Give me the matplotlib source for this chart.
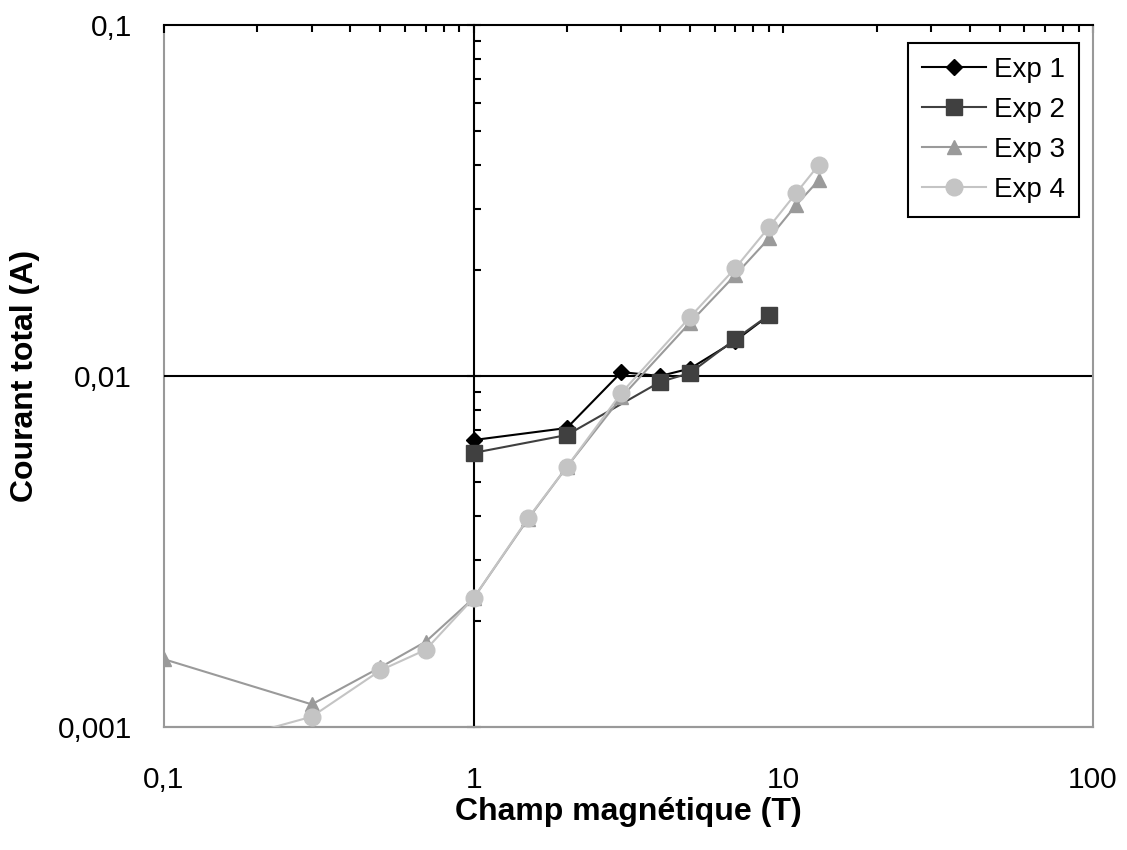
import numpy as np
import matplotlib.pyplot as plt
from matplotlib.ticker import FuncFormatter, LogLocator, NullFormatter, NullLocator, FixedLocator

plt.rcParams['font.family'] = ['Liberation Sans', 'DejaVu Sans']

# Données (champ en T, courant en A)
champ_exp1 = [1, 2, 3, 4, 5, 7, 9]
courant_exp1 = [0.00657, 0.00711, 0.01026, 0.0100, 0.0105, 0.0126, 0.0149]

champ_exp2 = [1, 2, 4, 5, 7, 9]
courant_exp2 = [0.00604, 0.00679, 0.00962, 0.0102, 0.01274, 0.01493]

champ_exp3 = [0.1, 0.3, 0.5, 0.7, 1, 1.5, 2, 3, 5, 7, 9, 11, 13]
courant_exp3 = [0.00156, 0.00116, 0.00148, 0.00175, 0.00233, 0.00392, 0.00551,
                0.0087, 0.0142, 0.0194, 0.0247, 0.0307, 0.0361]

champ_exp4 = [0.1, 0.3, 0.5, 0.7, 1, 1.5, 2, 3, 5, 7, 9, 11, 13]
courant_exp4 = [0.00082, 0.00107, 0.00145, 0.00166, 0.00233, 0.00394, 0.00551,
                0.00895, 0.01473, 0.0203, 0.0266, 0.0332, 0.0399]

xticks = [0.1, 1, 10, 100]
yticks = [0.001, 0.01, 0.1]

def virgule(v, pos=None):
    return f"{v:g}".replace('.', ',')

fig = plt.figure(figsize=(11.27, 8.5), dpi=100)
ax = fig.add_axes([164 / 1127, 1 - 727 / 850, 929 / 1127, 702 / 850])
ax.set_xscale('log')
ax.set_yscale('log')
ax.set_xlim(0.1, 100)
ax.set_ylim(0.001, 0.1)

gris = '#999999'

# séries (la dernière est dessinée au-dessus, comme dans Excel)
ax.plot(champ_exp1, courant_exp1, color='black', lw=1.5, marker='D', ms=8, zorder=3, label='Exp 1')
ax.plot(champ_exp2, courant_exp2, color='#404040', lw=1.5, marker='s', ms=11, zorder=4, label='Exp 2')
ax.plot(champ_exp3, courant_exp3, color='#9a9a9a', lw=1.5, marker='^', ms=10, zorder=5, label='Exp 3')
ax.plot(champ_exp4, courant_exp4, color='#c4c4c4', lw=1.5, marker='o', ms=12, zorder=6, label='Exp 4')

# ligne de grille à 0,01
ax.axhline(0.01, color='black', lw=1.5, zorder=2)

# axe Y croisant en x=1, axe X en haut
ax.spines['left'].set_position(('data', 1))
ax.spines['left'].set_color('black')
ax.spines['left'].set_linewidth(1.5)
ax.spines['top'].set_color('black')
ax.spines['top'].set_linewidth(1.5)
ax.spines['bottom'].set_color(gris)
ax.spines['bottom'].set_linewidth(1.5)
ax.spines['right'].set_color(gris)
ax.spines['right'].set_linewidth(1.5)

ax.xaxis.set_ticks_position('top')
ax.yaxis.set_ticks_position('left')
ax.xaxis.set_major_locator(FixedLocator(xticks))
ax.yaxis.set_major_locator(FixedLocator(yticks))
ax.xaxis.set_minor_locator(LogLocator(base=10, subs=np.arange(2, 10)))
ax.yaxis.set_minor_locator(LogLocator(base=10, subs=np.arange(2, 10)))
ax.xaxis.set_minor_formatter(NullFormatter())
ax.yaxis.set_minor_formatter(NullFormatter())
ax.tick_params(which='major', width=1.5, color='black',
               labeltop=False, labelbottom=False, labelleft=False, labelright=False)
ax.tick_params(axis='x', which='major', direction='in', length=6)
ax.tick_params(axis='y', which='major', direction='inout', length=10)
ax.tick_params(which='minor', direction='in', length=5, width=1.5, color='black')

# étiquettes à gauche et en bas (cadre gris)
secx = ax.secondary_xaxis('bottom')
secx.set_xticks(xticks)
secx.xaxis.set_minor_locator(NullLocator())
secx.xaxis.set_major_formatter(FuncFormatter(virgule))
secx.tick_params(length=0, pad=28, labelsize=21.5)
secx.spines['bottom'].set_color(gris)
secx.spines['bottom'].set_linewidth(1.5)
secx.set_xlabel('Champ magnétique (T)', fontsize=23, fontweight='bold', labelpad=2)

secy = ax.secondary_yaxis('left')
secy.set_yticks(yticks)
secy.yaxis.set_minor_locator(NullLocator())
secy.yaxis.set_major_formatter(FuncFormatter(virgule))
secy.tick_params(length=0, pad=23, labelsize=21.5)
secy.spines['left'].set_color(gris)
secy.spines['left'].set_linewidth(1.5)
secy.set_ylabel('Courant total (A)', fontsize=23, fontweight='bold', labelpad=13)

leg = ax.legend(loc='upper right', bbox_to_anchor=(0.985, 0.974), borderaxespad=0,
                fontsize=20, handlelength=2.3, handletextpad=0.3, labelspacing=0.5,
                borderpad=0.5, fancybox=False, framealpha=1, edgecolor='black')
leg.get_frame().set_linewidth(1.5)

fig.savefig('out.png', dpi=100)
